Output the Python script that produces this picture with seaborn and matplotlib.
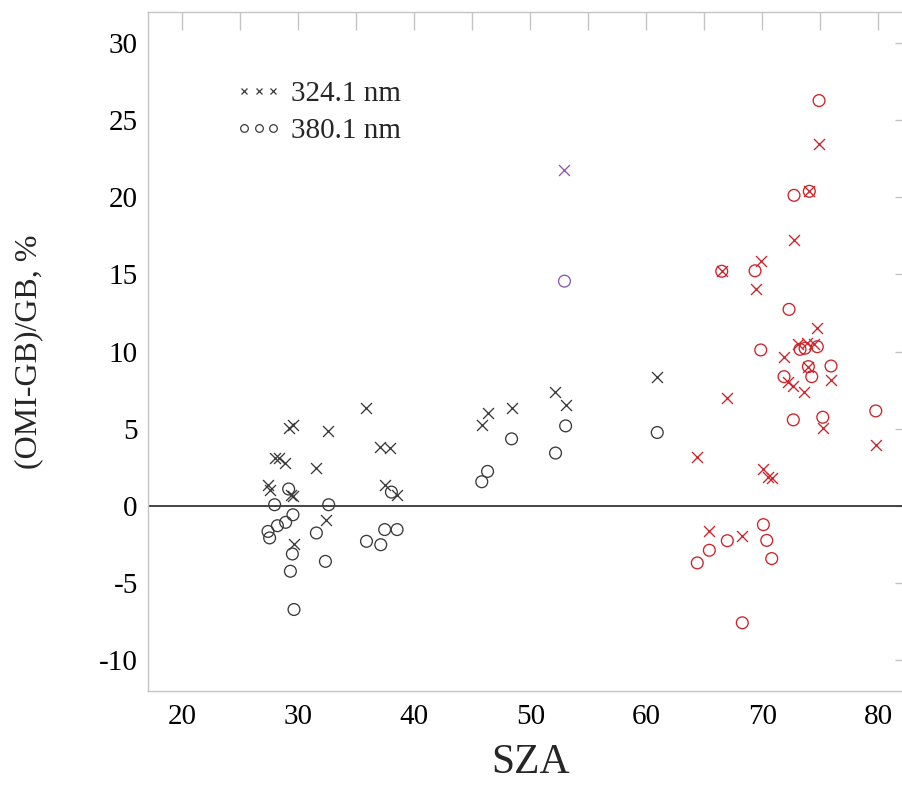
import numpy as np
import pandas as pd
import matplotlib
matplotlib.use("Agg")
import matplotlib.pyplot as plt
from matplotlib.lines import Line2D
from matplotlib.ticker import MultipleLocator
import seaborn as sns

# Relative difference OMI vs ground-based (GB), percent, against solar zenith angle.
# Black: SZA below ~62 deg, red: high SZA, purple: single outlier day.

sza_324_black = [35.88, 29.20, 29.54, 32.56, 37.02, 37.95, 27.96, 28.33, 28.89, 31.56,
                 27.39, 27.53, 29.40, 29.54, 37.45, 38.55, 32.42, 29.60,
                 60.95, 52.12, 53.05, 48.39, 46.37, 45.85]
dev_324_black = [6.33, 5.07, 5.25, 4.86, 3.78, 3.74, 3.13, 3.07, 2.77, 2.45,
                 1.36, 1.04, 0.72, 0.61, 1.36, 0.72, -0.90, -2.45,
                 8.33, 7.40, 6.54, 6.33, 6.04, 5.25]

sza_380_black = [29.17, 38.03, 27.96, 32.62, 29.54, 28.91, 28.20, 27.39, 27.53, 31.56,
                 37.45, 38.52, 35.88, 37.11, 29.49, 32.34, 29.32, 29.63,
                 60.95, 53.05, 48.39, 52.18, 46.32, 45.82]
dev_380_black = [1.09, 0.89, 0.07, 0.07, -0.58, -1.07, -1.29, -1.66, -2.08, -1.76,
                 -1.54, -1.54, -2.30, -2.52, -3.12, -3.60, -4.24, -6.72,
                 4.75, 5.18, 4.34, 3.42, 2.23, 1.56]

sza_324_purple = [52.95]
dev_324_purple = [21.79]
sza_380_purple = [52.95]
dev_380_purple = [14.56]

sza_324_red = [74.90, 74.06, 72.74, 66.51, 69.87, 69.44, 74.70, 73.11, 73.84, 74.47,
               71.88, 73.98, 72.25, 72.68, 73.60, 75.93, 66.99, 75.22, 79.79, 64.40,
               70.10, 70.47, 70.82, 65.44, 68.28]
dev_324_red = [23.47, 20.38, 17.21, 15.20, 15.85, 14.02, 11.50, 10.49, 10.57, 10.49,
               9.62, 9.02, 8.05, 7.77, 7.40, 8.16, 6.97, 5.03, 3.91, 3.16,
               2.38, 1.84, 1.80, -1.66, -1.93]

sza_380_red = [74.90, 74.06, 72.74, 66.51, 69.38, 72.31, 69.87, 73.26, 73.69, 74.75,
               75.93, 73.98, 74.27, 71.88, 72.68, 75.22, 79.79, 70.10, 66.99, 70.39,
               65.44, 70.82, 64.40, 68.28]
dev_380_red = [26.26, 20.38, 20.12, 15.20, 15.23, 12.73, 10.10, 10.14, 10.21, 10.31,
               9.06, 9.02, 8.37, 8.37, 5.57, 5.74, 6.15, -1.22, -2.26, -2.24,
               -2.88, -3.42, -3.70, -7.58]

legend_labels = ["324.1 nm", "380.1 nm"]
x_ticks = [20, 30, 40, 50, 60, 70, 80]
y_ticks = [-10, -5, 0, 5, 10, 15, 20, 25, 30]

group_colors = {"black": "#3a3a3a", "purple": "#8b5aae", "red": "#cc2229"}


def block(sza, dev, band, group):
    return pd.DataFrame({"sza": sza, "dev": dev, "band": band, "group": group})


df = pd.concat([
    block(sza_324_black, dev_324_black, "324.1", "black"),
    block(sza_380_black, dev_380_black, "380.1", "black"),
    block(sza_324_purple, dev_324_purple, "324.1", "purple"),
    block(sza_380_purple, dev_380_purple, "380.1", "purple"),
    block(sza_324_red, dev_324_red, "324.1", "red"),
    block(sza_380_red, dev_380_red, "380.1", "red"),
], ignore_index=True)

sns.set_theme(style="white")
plt.rcParams["font.family"] = ["Liberation Serif", "DejaVu Serif"]
plt.rcParams["axes.unicode_minus"] = False

fig = plt.figure(figsize=(9.02, 7.94), dpi=100)
W, H = 902, 794
left_px, right_px, top_px, bottom_px = 147.5, 913.0, 12.0, 691.0
ax = fig.add_axes([left_px / W, 1 - bottom_px / H,
                   (right_px - left_px) / W, (bottom_px - top_px) / H])

# zero reference line
ax.axhline(0, color="#444444", lw=1.4, zorder=1)

for (grp, band), sub in df.groupby(["group", "band"]):
    col = group_colors[grp]
    if band == "324.1":
        sns.scatterplot(data=sub, x="sza", y="dev", ax=ax, marker="x", s=62,
                        color=col, linewidth=0.95, legend=False, zorder=3)
    else:
        sns.scatterplot(data=sub, x="sza", y="dev", ax=ax, marker="o", s=72,
                        facecolor="none", edgecolor=col, linewidth=0.95,
                        legend=False, zorder=3)

ax.set_xlim(17, 83)
ax.set_ylim(-12, 32)
ax.set_xticks(x_ticks)
ax.set_yticks(y_ticks)
ax.xaxis.set_minor_locator(MultipleLocator(5))

spine_col = "#c4c4c4"
for sp in ax.spines.values():
    sp.set_color(spine_col)
    sp.set_linewidth(1.0)

ax.tick_params(axis="both", which="both", direction="in", color=spine_col,
               width=1.0, labelsize=21, labelcolor="black")
ax.tick_params(axis="x", which="major", length=13, top=True, pad=9)
ax.tick_params(axis="x", which="minor", length=7, top=True)
ax.tick_params(axis="y", which="major", length=13, right=True, pad=7)

# top ticks are all the same length
for t in ax.xaxis.get_major_ticks() + ax.xaxis.get_minor_ticks():
    t.tick2line.set_markersize(13)

ax.set_xlabel("SZA", fontsize=30, labelpad=10)
ax.set_ylabel("(OMI-GB)/GB, %", fontsize=23, labelpad=40)
ax.grid(False)

handles = [
    Line2D([], [], marker="x", ls="none", color="#3a3a3a", ms=5, mew=0.9),
    Line2D([], [], marker="o", ls="none", color="#3a3a3a", mfc="none", ms=5.5, mew=0.9),
]
leg = ax.legend(handles, legend_labels, numpoints=3, frameon=False,
                loc="center left", bbox_to_anchor=(0.115, 0.852),
                borderpad=0, borderaxespad=0, handlelength=1.6,
                handletextpad=0.3, labelspacing=0.35, fontsize=21)

fig.savefig("out.png", dpi=100)
